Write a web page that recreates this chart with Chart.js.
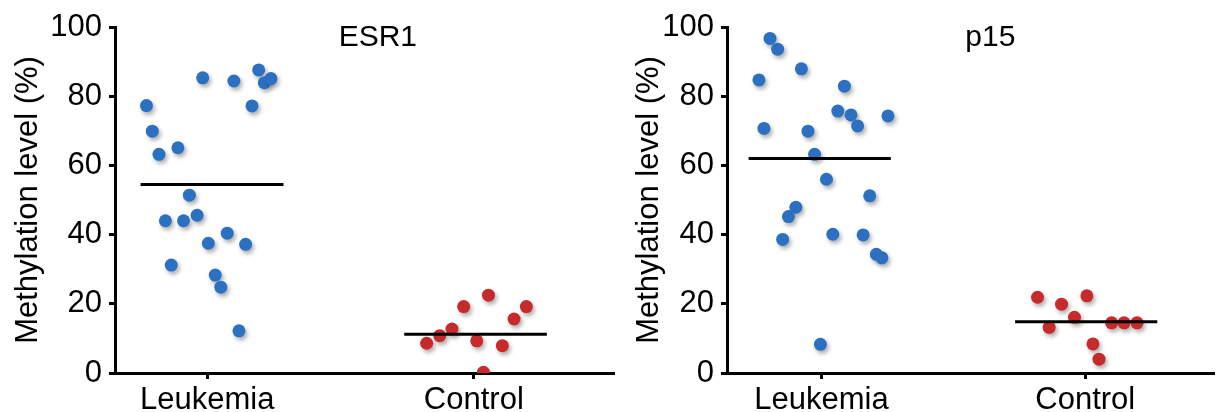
<!DOCTYPE html>
<html>
<head>
<meta charset="utf-8">
<script src="https://cdn.jsdelivr.net/npm/chart.js@4/dist/chart.umd.min.js"></script>
<style>
  html, body { margin: 0; padding: 0; background: #fff; }
  #wrap { position: relative; width: 1220px; height: 412px; }
  #esr1Box { position: absolute; left: 0; top: 0; width: 620px; height: 412px; }
  #p15Box { position: absolute; left: 620px; top: 0; width: 600px; height: 412px; }
</style>
</head>
<body>
<div id="wrap">
  <div id="esr1Box"><canvas id="graficoEsr1" width="620" height="412"></canvas></div>
  <div id="p15Box"><canvas id="graficoP15" width="600" height="412"></canvas></div>
</div>
<script>
const categorias = ['Leukemia', 'Control'];
const ticksY = [0, 20, 40, 60, 80, 100];
const tituloY = 'Methylation level (%)';

// ESR1: x = posição na categoria (1 = Leukemia, 2 = Control) com espalhamento
const esr1LeukemiaX = [0.772, 0.794, 0.819, 0.890, 0.983, 1.100, 1.193, 1.214, 1.239, 1.168, 0.933,
    0.843, 0.911, 0.962, 1.004, 1.075, 1.144, 0.865, 1.030, 1.051, 1.119];
const esr1LeukemiaY = [77.3, 69.9, 63.2, 65.1, 85.3, 84.4, 87.6, 83.9, 85.1, 77.2, 51.4,
    44.0, 44.0, 45.6, 37.5, 40.4, 37.2, 31.2, 28.3, 24.8, 12.2];
const esr1ControlX = [1.823, 1.872, 1.918, 1.962, 2.055, 2.011, 2.107, 2.151, 2.197, 2.036];
const esr1ControlY = [8.6, 10.8, 12.7, 19.2, 22.5, 9.3, 7.9, 15.6, 19.2, 0.2];
const esr1MediaX = [[0.75, 1.286], [1.739, 2.274]];
const esr1MediaY = [54.5, 11.2];

// p15
const p15LeukemiaX = [0.805, 0.834, 0.763, 0.782, 0.924, 0.949, 0.974, 1.087, 1.062, 1.112, 1.137,
    1.252, 1.019, 1.183, 0.903, 0.875, 0.853, 1.043, 1.158, 1.208, 1.229, 0.996];
const p15LeukemiaY = [96.7, 93.6, 84.7, 70.7, 87.9, 69.9, 63.2, 82.9, 75.7, 74.6, 71.4,
    74.3, 56.0, 51.2, 47.9, 45.2, 38.6, 40.1, 39.9, 34.3, 33.3, 8.3];
const p15ControlX = [1.819, 1.910, 2.006, 1.959, 1.863, 2.100, 2.147, 2.196, 2.029, 2.052];
const p15ControlY = [21.9, 19.9, 22.3, 16.1, 13.2, 14.5, 14.5, 14.5, 8.4, 4.0];
const p15MediaX = [[0.724, 1.263], [1.734, 2.273]];
const p15MediaY = [62.0, 14.8];

const azul = '#2c70c2';
const vermelho = '#c62a2b';
const fonte = "'Liberation Sans', Arial, Helvetica, sans-serif";

function pares(xs, ys) {
    return xs.map((x, i) => ({ x: x, y: ys[i] }));
}

// sombra suave nos pontos
const sombraPlugin = {
    id: 'sombra',
    beforeDatasetDraw(chart, args) {
        if (!args.meta._dataset.sombra) return;
        const ctx = chart.ctx;
        ctx.save();
        ctx.shadowColor = 'rgba(0, 0, 0, 0.32)';
        ctx.shadowBlur = 4;
        ctx.shadowOffsetX = 2;
        ctx.shadowOffsetY = 3;
    },
    afterDatasetDraw(chart, args) {
        if (!args.meta._dataset.sombra) return;
        chart.ctx.restore();
    }
};

// título do gene dentro da área do gráfico
const tituloPlugin = {
    id: 'tituloGene',
    afterDraw(chart, args, opts) {
        const ctx = chart.ctx;
        ctx.save();
        ctx.font = '30px ' + fonte;
        ctx.fillStyle = '#000';
        ctx.textAlign = 'center';
        ctx.textBaseline = 'middle';
        ctx.fillText(opts.texto, chart.scales.x.getPixelForValue(opts.posX), opts.posY);
        ctx.restore();
    }
};

function criaGrafico(id, gene, leukX, leukY, ctrlX, ctrlY, mediaX, mediaY, cfg) {
    const datasets = [];
    mediaX.forEach((xs, i) => {
        datasets.push({
            data: pares(xs, [mediaY[i], mediaY[i]]),
            showLine: true,
            borderColor: '#000',
            borderWidth: 3,
            pointRadius: 0,
            order: 0
        });
    });
    datasets.push({
        data: pares(leukX, leukY),
        backgroundColor: azul,
        borderWidth: 0,
        pointRadius: 6.5,
        sombra: true,
        order: 1
    });
    datasets.push({
        data: pares(ctrlX, ctrlY),
        backgroundColor: vermelho,
        borderWidth: 0,
        pointRadius: 6.5,
        sombra: true,
        order: 1
    });

    return new Chart(document.getElementById(id).getContext('2d'), {
        type: 'scatter',
        data: { datasets: datasets },
        plugins: [sombraPlugin, tituloPlugin],
        options: {
            responsive: false,
            animation: false,
            layout: { padding: { top: 27, right: cfg.padDireita, bottom: 0, left: 0 } },
            plugins: {
                legend: { display: false },
                tooltip: { enabled: false },
                tituloGene: { texto: gene, posX: 1.64, posY: 38 }
            },
            scales: {
                x: {
                    type: 'linear',
                    min: cfg.xMin,
                    max: cfg.xMax,
                    border: { display: true, color: '#000', width: 3 },
                    grid: { drawOnChartArea: false, color: '#000', lineWidth: 3, tickLength: 6 },
                    afterBuildTicks: axis => {
                        axis.ticks = categorias.map((c, i) => ({ value: i + 1 }));
                    },
                    afterFit: scale => { scale.height = 39; },
                    ticks: {
                        color: '#000',
                        padding: 3,
                        maxRotation: 0,
                        font: { family: fonte, size: 31 },
                        callback: v => categorias[v - 1]
                    }
                },
                y: {
                    min: 0,
                    max: 100,
                    border: { display: true, color: '#000', width: 3 },
                    grid: { drawOnChartArea: false, color: '#000', lineWidth: 3, tickLength: 6 },
                    afterBuildTicks: axis => {
                        axis.ticks = ticksY.map(v => ({ value: v }));
                    },
                    afterFit: scale => { scale.width = cfg.larguraY; },
                    ticks: {
                        color: '#000',
                        padding: 7,
                        font: { family: fonte, size: 31 }
                    },
                    title: {
                        display: true,
                        text: tituloY,
                        color: '#000',
                        padding: { top: cfg.padTitulo, bottom: 0 },
                        font: { family: fonte, size: 31 }
                    }
                }
            }
        }
    });
}

criaGrafico('graficoEsr1', 'ESR1', esr1LeukemiaX, esr1LeukemiaY, esr1ControlX, esr1ControlY,
    esr1MediaX, esr1MediaY, { xMin: 0.654, xMax: 2.524, larguraY: 115, padDireita: 2, padTitulo: 10 });

criaGrafico('graficoP15', 'p15', p15LeukemiaX, p15LeukemiaY, p15ControlX, p15ControlY,
    p15MediaX, p15MediaY, { xMin: 0.642, xMax: 2.486, larguraY: 107, padDireita: 0, padTitulo: 11 });
</script>
</body>
</html>
